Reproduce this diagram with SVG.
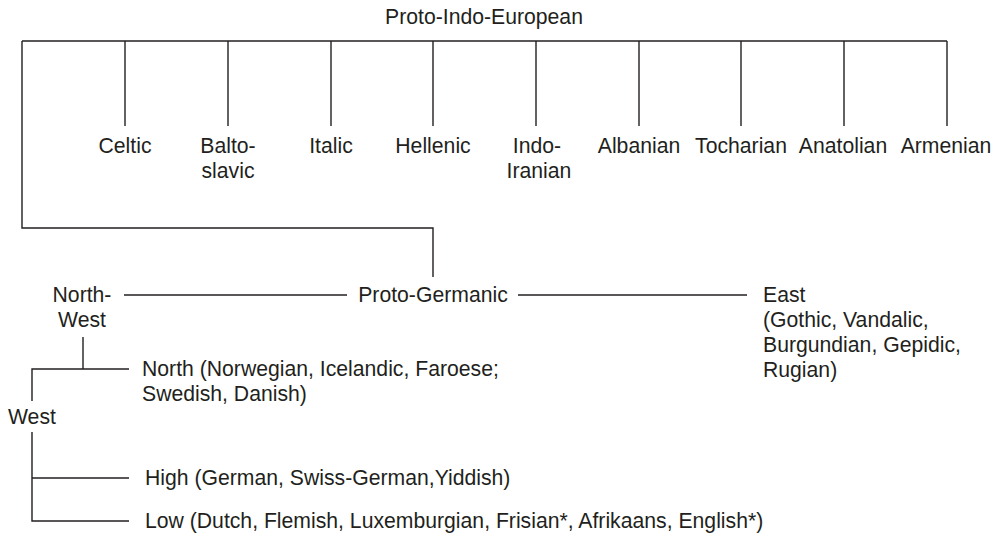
<svg xmlns="http://www.w3.org/2000/svg" width="998" height="548" viewBox="0 0 998 548">
<style>
  text { font-family: "Liberation Sans", Arial, sans-serif; font-size: 21.2px; fill: #231f20; }
  .c { text-anchor: middle; }
  .conn line, .conn polyline { stroke: #231f20; stroke-width: 1.4; fill: none; }
</style>
<rect width="998" height="548" fill="#ffffff"/>
<g class="conn" id="connectors">
  <line x1="22" y1="41" x2="947" y2="41"/>
  <line x1="125" y1="41" x2="125" y2="126"/>
  <line x1="228" y1="41" x2="228" y2="126"/>
  <line x1="331" y1="41" x2="331" y2="126"/>
  <line x1="433" y1="41" x2="433" y2="126"/>
  <line x1="536" y1="41" x2="536" y2="126"/>
  <line x1="639" y1="41" x2="639" y2="126"/>
  <line x1="741" y1="41" x2="741" y2="126"/>
  <line x1="844" y1="41" x2="844" y2="126"/>
  <line x1="947" y1="41" x2="947" y2="126"/>
  <polyline points="22,41 22,228 433,228 433,277"/>
  <line x1="124" y1="295" x2="347" y2="295"/>
  <line x1="518" y1="295" x2="747" y2="295"/>
  <line x1="83" y1="337" x2="83" y2="369"/>
  <polyline points="129,369 32,369 32,401"/>
  <polyline points="32,432 32,521 129,521"/>
  <line x1="32" y1="478" x2="129" y2="478"/>
</g>
<g id="pie"><text class="c" x="484" y="24">Proto-Indo-European</text></g>
<g id="celtic"><text class="c" x="125" y="153">Celtic</text></g>
<g id="baltoslavic"><text class="c" x="228" y="153">Balto-</text><text class="c" x="228" y="178">slavic</text></g>
<g id="italic"><text class="c" x="331" y="153">Italic</text></g>
<g id="hellenic"><text class="c" x="433" y="153">Hellenic</text></g>
<g id="indoiranian"><text class="c" x="537" y="153">Indo-</text><text class="c" x="539" y="178">Iranian</text></g>
<g id="albanian"><text class="c" x="639" y="153">Albanian</text></g>
<g id="tocharian"><text class="c" x="741" y="153">Tocharian</text></g>
<g id="anatolian"><text class="c" x="843" y="153">Anatolian</text></g>
<g id="armenian"><text class="c" x="946" y="153">Armenian</text></g>
<g id="protogermanic"><text class="c" x="433" y="302">Proto-Germanic</text></g>
<g id="northwest"><text class="c" x="82" y="302">North-</text><text class="c" x="82" y="327">West</text></g>
<g id="east"><text x="763" y="302">East</text><text x="763" y="327">(Gothic, Vandalic,</text><text x="763" y="352">Burgundian, Gepidic,</text><text x="763" y="377">Rugian)</text></g>
<g id="north"><text x="142" y="376">North (Norwegian, Icelandic, Faroese;</text><text x="142" y="401">Swedish, Danish)</text></g>
<g id="west"><text x="8" y="424">West</text></g>
<g id="high"><text x="145" y="485">High (German, Swiss-German,Yiddish)</text></g>
<g id="low"><text x="145" y="528">Low (Dutch, Flemish, Luxemburgian, Frisian*, Afrikaans, English*)</text></g>
</svg>
